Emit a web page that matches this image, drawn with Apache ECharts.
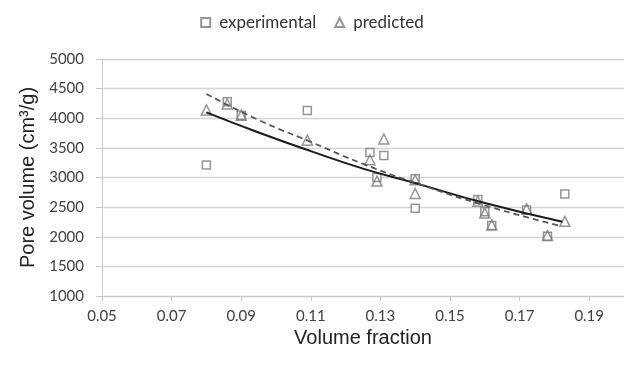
<!DOCTYPE html>
<html>
<head>
<meta charset="utf-8">
<script src="https://cdn.jsdelivr.net/npm/echarts@6/dist/echarts.min.js"></script>
<style>
  html, body { margin: 0; padding: 0; background: #fff; }
  #chart { width: 624px; height: 371px; }
</style>
</head>
<body>
<div id="chart"></div>
<script>
// values
const expX = [0.080, 0.086, 0.090, 0.109, 0.127, 0.131, 0.129, 0.140, 0.140, 0.158, 0.160, 0.162, 0.172, 0.178, 0.183];
const expY = [3210, 4280, 4050, 4130, 3420, 3370, 3000, 2980, 2480, 2630, 2420, 2190, 2450, 2010, 2720];
const predX = [0.080, 0.086, 0.090, 0.109, 0.127, 0.131, 0.129, 0.140, 0.140, 0.158, 0.160, 0.162, 0.172, 0.178, 0.183];
const predY = [4140, 4240, 4050, 3630, 3300, 3650, 2940, 2730, 2960, 2600, 2400, 2200, 2470, 2020, 2260];

// trend lines
const trendExpX = [0.080, 0.095, 0.110, 0.125, 0.140, 0.160, 0.1823];
const trendExpY = [4100, 3760, 3445, 3150, 2905, 2570, 2254];
const trendPredX = [0.080, 0.095, 0.110, 0.125, 0.140, 0.160, 0.1817];
const trendPredY = [4410, 3970, 3600, 3230, 2910, 2530, 2181];

const xTicks = { min: 0.05, max: 0.2, step: 0.02 };
const yTicks = { min: 1000, max: 5000, step: 500 };

const zip = (xs, ys) => xs.map((x, i) => [x, ys[i]]);

const tickFont = 'Lato, "Open Sans", sans-serif';
const nameFont = '"Liberation Sans", Arial, sans-serif';
const markColor = '#7a7a7a';

const chart = echarts.init(document.getElementById('chart'), null, { renderer: 'canvas' });

chart.setOption({
  animation: false,
  backgroundColor: '#ffffff',
  grid: { left: 102, right: -3, top: 59, bottom: 75, containLabel: false },
  legend: {
    data: ['experimental', 'predicted'],
    top: 9,
    left: 'center',
    itemWidth: 9,
    itemHeight: 9,
    itemGap: 18,
    textStyle: { fontFamily: tickFont, fontSize: 17, color: '#333', padding: [0, 0, 0, 4] },
  },
  xAxis: {
    type: 'value',
    min: xTicks.min,
    max: xTicks.max,
    interval: xTicks.step,
    name: 'Volume fraction',
    nameLocation: 'middle',
    nameGap: 26,
    nameTextStyle: { fontFamily: nameFont, fontSize: 20, color: '#222' },
    axisLine: { show: true, lineStyle: { color: '#c8c8c8', width: 1 } },
    axisTick: { show: true, length: 5, lineStyle: { color: '#c8c8c8' } },
    axisLabel: {
      margin: 13,
      showMaxLabel: false,
      fontFamily: tickFont,
      fontSize: 15,
      color: '#404040',
      formatter: v => v.toFixed(2),
    },
    splitLine: { show: false },
  },
  yAxis: {
    type: 'value',
    min: yTicks.min,
    max: yTicks.max,
    interval: yTicks.step,
    name: 'Pore volume (cm³/g)',
    nameLocation: 'middle',
    nameGap: 63,
    nameTextStyle: { fontFamily: nameFont, fontSize: 20, color: '#222' },
    axisLine: { show: true, lineStyle: { color: '#c8c8c8', width: 1 } },
    axisTick: { show: true, length: 6, lineStyle: { color: '#c8c8c8' } },
    axisLabel: {
      margin: 18,
      fontFamily: tickFont,
      fontSize: 15,
      color: '#404040',
      formatter: v => String(v),
    },
    splitLine: { show: true, lineStyle: { color: '#d4d4d4', width: 1.3 } },
  },
  series: [
    {
      name: 'experimental',
      type: 'scatter',
      symbol: 'rect',
      symbolSize: 8,
      itemStyle: { color: '#fff', borderColor: markColor, borderWidth: 1.5 },
      data: zip(expX, expY),
      z: 3,
    },
    {
      name: 'predicted',
      type: 'scatter',
      symbol: 'triangle',
      symbolSize: 10,
      itemStyle: { color: 'rgba(255,255,255,0)', borderColor: markColor, borderWidth: 1.5 },
      data: zip(predX, predY),
      z: 4,
    },
    {
      name: 'trend experimental',
      type: 'line',
      smooth: true,
      symbol: 'none',
      lineStyle: { color: '#1a1a1a', width: 2 },
      data: zip(trendExpX, trendExpY),
      z: 5,
    },
    {
      name: 'trend predicted',
      type: 'line',
      smooth: true,
      symbol: 'none',
      lineStyle: { color: '#555', width: 1.8, type: [6, 4] },
      data: zip(trendPredX, trendPredY),
      z: 5,
    },
  ],
});
</script>
</body>
</html>
